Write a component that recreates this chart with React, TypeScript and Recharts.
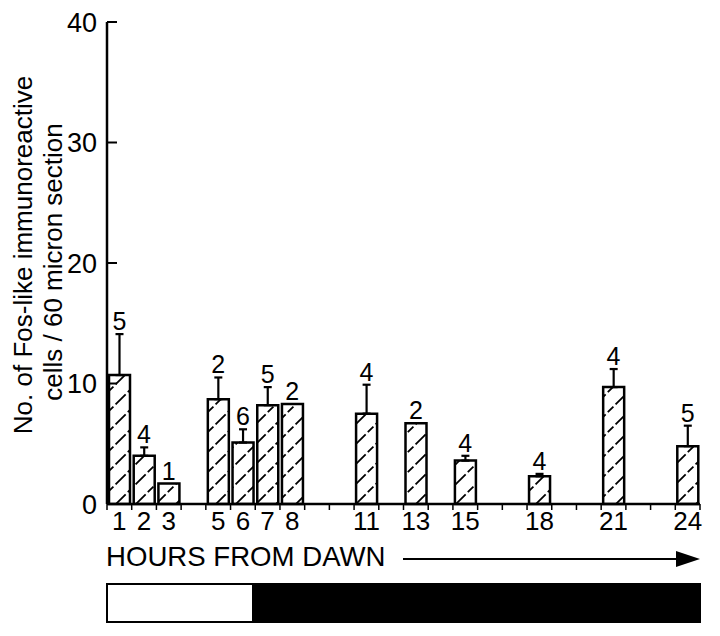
import { ComposedChart, Bar, Line, XAxis, YAxis, ErrorBar, LabelList } from 'recharts'

const hours = [1, 2, 3, 5, 6, 7, 8, 11, 13, 15, 18, 21, 24]
const meanCells = [10.7, 4.0, 1.7, 8.7, 5.1, 8.2, 8.3, 7.5, 6.7, 3.6, 2.3, 9.7, 4.8]
const semCells: (number | null)[] = [3.4, 0.7, null, 1.8, 1.1, 1.5, null, 2.4, null, 0.4, 0.2, 1.5, 1.7]
const nAnimals = [5, 4, 1, 2, 6, 5, 2, 4, 2, 4, 4, 4, 5]

const hourBounds = [
  0.5, 1.5, 2.5, 3.5, 4.5, 5.5, 6.5, 7.5, 8.5, 9.5, 10.5, 11.5, 12.5,
  13.5, 14.5, 15.5, 16.5, 17.5, 18.5, 19.5, 20.5, 21.5, 22.5, 23.5, 24.5,
]
const yTicks = [0, 10, 20, 30, 40]

const FONT = '"Liberation Sans", Arial, Helvetica, sans-serif'
const INK = '#000'

const data = hours.map((h, i) => ({
  hour: h,
  mean: meanCells[i],
  err: semCells[i] != null ? [0, semCells[i]] : undefined,
  labelY: meanCells[i] + (semCells[i] ?? 0),
  n: nAnimals[i],
}))

export default function App() {
  return (
    <div style={{ position: 'absolute', left: 0, top: 0, width: 720, height: 636, background: '#fff', fontFamily: FONT }}>
      <ComposedChart width={720} height={545} data={data} margin={{ top: 22, right: 20, bottom: 0, left: 0 }}>
        <defs>
          <pattern id="hatch" patternUnits="userSpaceOnUse" width="20" height="20">
            <path d="M0,20 L20,0 M-3,3 L3,-3 M17,23 L23,17" stroke={INK} strokeWidth={1.8} strokeDasharray="8 3" />
          </pattern>
        </defs>
        <XAxis
          xAxisId="grid"
          dataKey="hour"
          type="number"
          domain={[0.5, 24.5]}
          ticks={hourBounds}
          interval={0}
          tickFormatter={() => ''}
          tickSize={6}
          tickLine={{ stroke: INK, strokeWidth: 1.5 }}
          axisLine={{ stroke: INK, strokeWidth: 2.5 }}
          height={6}
        />
        <XAxis
          xAxisId="lab"
          dataKey="hour"
          type="number"
          domain={[0.5, 24.5]}
          ticks={hours}
          interval={0}
          axisLine={false}
          tickLine={false}
          tickSize={0}
          tickMargin={2}
          height={35}
          tick={{ fontSize: 26, fill: INK, fontFamily: FONT }}
        />
        <YAxis
          type="number"
          domain={[0, 40]}
          ticks={yTicks}
          interval={0}
          width={107}
          tickSize={-10}
          tickMargin={20}
          tickLine={{ stroke: INK, strokeWidth: 2 }}
          axisLine={{ stroke: INK, strokeWidth: 2.5 }}
          tick={{ fontSize: 27, fill: INK, fontFamily: FONT }}
        />
        <Bar
          xAxisId="grid"
          dataKey="mean"
          barSize={21}
          fill="url(#hatch)"
          stroke={INK}
          strokeWidth={2.5}
          isAnimationActive={false}
        >
          <ErrorBar dataKey="err" direction="y" width={4} stroke={INK} strokeWidth={2.2} />
        </Bar>
        <Line
          xAxisId="grid"
          dataKey="labelY"
          stroke="none"
          dot={false}
          activeDot={false}
          isAnimationActive={false}
        >
          <LabelList dataKey="n" position="top" offset={4} style={{ fontSize: 25, fill: INK, fontFamily: FONT }} />
        </Line>
      </ComposedChart>

      <svg width={720} height={636} style={{ position: 'absolute', left: 0, top: 0, pointerEvents: 'none' }}>
        <g fontFamily={FONT} fill={INK}>
          <text transform="translate(32,255) rotate(-90)" textAnchor="middle" fontSize={26}>
            No. of Fos-like immunoreactive
          </text>
          <text transform="translate(62,262) rotate(-90)" textAnchor="middle" fontSize={26}>
            cells / 60 micron section
          </text>
          <text x={106} y={566} fontSize={27.6}>HOURS FROM DAWN</text>
        </g>
        <line x1={403} y1={559} x2={680} y2={559} stroke={INK} strokeWidth={2} />
        <polygon points="676,551 700,559 676,567" fill={INK} />
        <rect x={107} y={584} width={146} height={38} fill="#fff" stroke={INK} strokeWidth={2} />
        <rect x={252} y={583} width={449} height={40} fill={INK} />
      </svg>
    </div>
  )
}
